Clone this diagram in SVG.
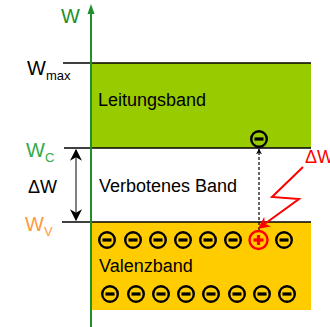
<svg xmlns="http://www.w3.org/2000/svg" width="330" height="327" viewBox="0 0 330 327">
<defs>
<style>
text{font-family:"Liberation Sans",Arial,sans-serif}
.lbl{font-size:18px;fill:#000}
.lev{stroke:#000;stroke-width:1.5}
</style>
<marker id="ah" viewBox="0 0 10 10" refX="9" refY="5" markerWidth="6" markerHeight="6" orient="auto-start-reverse"><path d="M0,0 L10,5 L0,10 L3,5 z" fill="#000"/></marker>
<marker id="ahs" viewBox="0 0 10 10" refX="9" refY="5" markerWidth="5" markerHeight="5" orient="auto"><path d="M0,0 L10,5 L0,10 L3,5 z" fill="#000"/></marker>
<marker id="ahr" viewBox="0 0 10 10" refX="9" refY="5" markerWidth="6" markerHeight="6" orient="auto"><path d="M0,0 L10,5 L0,10 L3,5 z" fill="#ff0000"/></marker>
<g id="el"><circle r="7.8" fill="none" stroke="#000" stroke-width="2.4"/><rect x="-4.5" y="-1.6" width="9" height="3.2" fill="#000"/></g>
</defs>

<g id="leitungsband">
<rect x="91" y="63" width="220" height="85" fill="#99cc00"/>
<text class="lbl" x="98" y="106">Leitungsband</text>
</g>
<g id="valenzband">
<rect x="91" y="222" width="220" height="88" fill="#ffcc00"/>
<text class="lbl" x="99" y="272">Valenzband</text>
</g>
<g id="verbotenes-band">
<text class="lbl" x="99" y="192">Verbotenes Band</text>
</g>

<g id="levels">
<line class="lev" x1="63" y1="63" x2="311" y2="63"/>
<line class="lev" x1="64" y1="148" x2="311" y2="148"/>
<line class="lev" x1="62" y1="222" x2="311" y2="222"/>
</g>

<g id="axis">
<line x1="91" y1="327" x2="91" y2="8" stroke="#1f8f2a" stroke-width="2"/>
<path d="M87.5,14 L91,4 L94.5,14 z" fill="#1f8f2a"/>
<text x="61" y="23" font-size="20" fill="#1f8f2a">W</text>
</g>

<g id="labels">
<text x="27" y="75" font-size="20" fill="#000">W<tspan font-size="13" dy="5">max</tspan></text>
<text x="26" y="157" font-size="20" fill="#33aa44">W<tspan font-size="13" dy="5">C</tspan></text>
<text x="28" y="193" font-size="18" fill="#000">ΔW</text>
<text x="25" y="231" font-size="20" fill="#ff9940">W<tspan font-size="13" dy="5">V</tspan></text>
<text x="305" y="163" font-size="18" fill="#ff0000">ΔW</text>
</g>

<g id="connectors">
<line x1="76" y1="150" x2="76" y2="220" stroke="#808080" stroke-width="2" marker-start="url(#ah)" marker-end="url(#ah)"/>
<line x1="259" y1="230" x2="259" y2="149" stroke="#000" stroke-width="1.2" stroke-dasharray="3,2" marker-end="url(#ahs)"/>
<polyline points="303,167 272,197 299,199 259,228" fill="none" stroke="#ff0000" stroke-width="2" marker-end="url(#ahr)"/>
</g>

<g id="electrons">
<use href="#el" x="259" y="139"/>
<use href="#el" x="107" y="240"/>
<use href="#el" x="133" y="240"/>
<use href="#el" x="158" y="240"/>
<use href="#el" x="183" y="240"/>
<use href="#el" x="208" y="240"/>
<use href="#el" x="233" y="240"/>
<use href="#el" x="284" y="240"/>
<use href="#el" x="110" y="294"/>
<use href="#el" x="136" y="294"/>
<use href="#el" x="161" y="294"/>
<use href="#el" x="186" y="294"/>
<use href="#el" x="211" y="294"/>
<use href="#el" x="237" y="294"/>
<use href="#el" x="262" y="294"/>
<use href="#el" x="287" y="294"/>
</g>

<g id="hole">
<circle cx="258.5" cy="240" r="9" fill="none" stroke="#ff0000" stroke-width="2.4"/>
<rect x="253.5" y="238.4" width="10" height="3.2" fill="#ff0000"/>
<rect x="256.9" y="235" width="3.2" height="10" fill="#ff0000"/>
</g>
</svg>
